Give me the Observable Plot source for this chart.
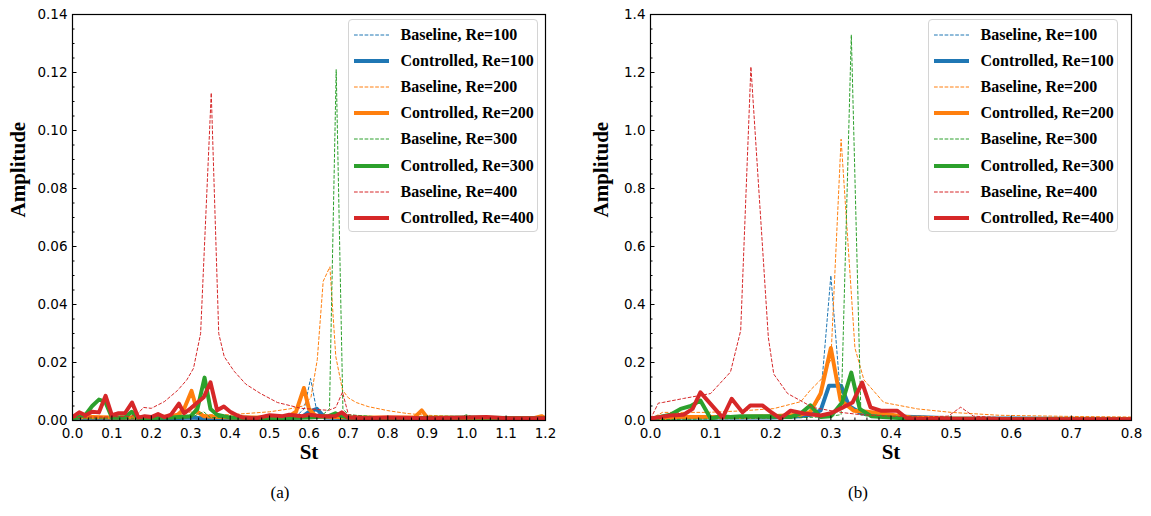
<!DOCTYPE html>
<html>
<head>
<meta charset="utf-8">
<script src="https://cdn.jsdelivr.net/npm/d3@7"></script>
<script src="https://cdn.jsdelivr.net/npm/@observablehq/plot@0.6"></script>
<style>
  html, body { margin: 0; padding: 0; background: #fff; }
  #fig { position: relative; width: 1151px; height: 516px; background: #fff; overflow: hidden; }
  #fig svg.plot { position: absolute; top: 0; }
  .legend { position: absolute; width: 190px; height: 213px; border: 1px solid #d4d4d4; border-radius: 4px;
            background: rgba(255,255,255,0.85); box-sizing: border-box; }
  .legend .row { position: absolute; left: 0; height: 20px; transform: translateY(-50%); display: flex; align-items: center; }
  .legend .row svg { position: absolute; left: 5px; top: 6px; }
  .legend .row span { position: absolute; left: 52px; white-space: nowrap; font: bold 16px "Liberation Serif", "Times New Roman", serif; color: #000; line-height: 20px; top: 0; }
  .cap { position: absolute; top: 483px; font: 17px "Liberation Serif", "Times New Roman", serif; color: #000; transform: translateX(-50%); }
</style>
</head>
<body>
<div id="fig"></div>
<script>
// ---- Series labels and colours ----
const seriesLabels = [
  "Baseline, Re=100", "Controlled, Re=100",
  "Baseline, Re=200", "Controlled, Re=200",
  "Baseline, Re=300", "Controlled, Re=300",
  "Baseline, Re=400", "Controlled, Re=400"
];
const seriesColors = ["#1f77b4", "#1f77b4", "#ff7f0e", "#ff7f0e", "#2ca02c", "#2ca02c", "#d62728", "#d62728"];

// ---- Panel (a): amplitude spectra, [St, Amplitude] ----
const a_base100 = [[0,0.001],[0.05,0.001],[0.1,0.001],[0.2,0.001],[0.28,0.001],[0.30,0.002],[0.32,0.001],[0.4,0.001],[0.5,0.001],[0.57,0.0018],[0.588,0.004],[0.604,0.0145],[0.62,0.003],[0.64,0.001],[0.7,0.001],[0.8,0.0008],[1.0,0.0008],[1.2,0.0008]];
const a_ctrl100 = [[0,0.0005],[0.2,0.0005],[0.3,0.001],[0.33,0.0008],[0.5,0.0008],[0.58,0.001],[0.6,0.003],[0.62,0.004],[0.64,0.001],[0.8,0.0005],[1.2,0.0005]];
const a_base200 = [[0,0.001],[0.1,0.0015],[0.2,0.0015],[0.28,0.002],[0.3,0.003],[0.32,0.002],[0.4,0.002],[0.45,0.0025],[0.5,0.003],[0.55,0.004],[0.585,0.005],[0.605,0.008],[0.621,0.021],[0.636,0.048],[0.653,0.053],[0.668,0.022],[0.685,0.0105],[0.7,0.0078],[0.72,0.0062],[0.75,0.0048],[0.8,0.0034],[0.85,0.0024],[0.9,0.0018],[1.0,0.0013],[1.1,0.001],[1.2,0.001]];
const a_ctrl200 = [[0,0.001],[0.05,0.0012],[0.1,0.001],[0.2,0.001],[0.25,0.0015],[0.267,0.002],[0.283,0.004],[0.302,0.0102],[0.317,0.003],[0.333,0.0015],[0.4,0.001],[0.5,0.001],[0.55,0.0015],[0.567,0.003],[0.587,0.0112],[0.6,0.004],[0.617,0.0015],[0.7,0.001],[0.8,0.001],[0.867,0.001],[0.886,0.0035],[0.9,0.001],[1.0,0.0008],[1.17,0.0008],[1.19,0.0015],[1.2,0.0008]];
const a_base300 = [[0,0.0008],[0.2,0.0008],[0.3,0.001],[0.333,0.003],[0.35,0.001],[0.5,0.001],[0.6,0.0015],[0.635,0.002],[0.652,0.004],[0.669,0.121],[0.686,0.004],[0.7,0.002],[0.8,0.001],[0.98,0.001],[1.0,0.002],[1.02,0.001],[1.2,0.0008]];
const a_ctrl300 = [[0,0.0005],[0.033,0.002],[0.05,0.005],[0.067,0.0072],[0.083,0.0065],[0.1,0.001],[0.133,0.001],[0.15,0.003],[0.167,0.0008],[0.25,0.001],[0.3,0.0015],[0.317,0.004],[0.335,0.0148],[0.35,0.004],[0.367,0.002],[0.4,0.001],[0.5,0.0008],[0.6,0.001],[0.65,0.0015],[0.667,0.0025],[0.683,0.0015],[0.7,0.001],[0.8,0.0008],[1.0,0.001],[1.2,0.0008]];
const a_base400 = [[0,0.001],[0.05,0.0012],[0.1,0.0012],[0.15,0.0015],[0.167,0.0025],[0.18,0.0045],[0.2,0.0042],[0.233,0.0065],[0.266,0.0103],[0.29,0.014],[0.307,0.018],[0.325,0.030],[0.352,0.113],[0.371,0.030],[0.385,0.022],[0.41,0.017],[0.44,0.0125],[0.477,0.0093],[0.52,0.0062],[0.58,0.0042],[0.65,0.0035],[0.668,0.0045],[0.685,0.0098],[0.7,0.002],[0.75,0.0012],[0.8,0.001],[1.2,0.001]];
const a_ctrl400 = [[0,0.0012],[0.017,0.0028],[0.033,0.0018],[0.05,0.003],[0.067,0.0028],[0.084,0.0085],[0.1,0.0018],[0.117,0.0025],[0.133,0.0025],[0.151,0.0062],[0.167,0.001],[0.183,0.0015],[0.2,0.0012],[0.217,0.0022],[0.233,0.0012],[0.25,0.002],[0.27,0.0058],[0.283,0.0025],[0.3,0.0042],[0.317,0.0062],[0.333,0.008],[0.35,0.0132],[0.367,0.0035],[0.384,0.0048],[0.4,0.003],[0.417,0.0018],[0.433,0.001],[0.467,0.0008],[0.5,0.0018],[0.533,0.0015],[0.55,0.002],[0.583,0.0015],[0.6,0.002],[0.633,0.0015],[0.667,0.0015],[0.683,0.0028],[0.7,0.001],[0.75,0.0008],[0.8,0.001],[0.9,0.0008],[1.0,0.001],[1.05,0.0012],[1.1,0.0008],[1.2,0.0008]];

// ---- Panel (b): amplitude spectra, [St, Amplitude] ----
const b_base100 = [[0,0.005],[0.017,0.015],[0.05,0.015],[0.1,0.015],[0.15,0.015],[0.2,0.015],[0.25,0.02],[0.267,0.03],[0.283,0.08],[0.3,0.5],[0.315,0.11],[0.333,0.05],[0.35,0.03],[0.4,0.02],[0.5,0.01],[0.6,0.008],[0.8,0.005]];
const b_ctrl100 = [[0,0.005],[0.05,0.01],[0.1,0.01],[0.2,0.01],[0.25,0.015],[0.267,0.02],[0.283,0.035],[0.297,0.12],[0.317,0.12],[0.33,0.05],[0.35,0.025],[0.4,0.015],[0.5,0.008],[0.8,0.005]];
const b_base200 = [[0,0.005],[0.02,0.028],[0.094,0.028],[0.15,0.033],[0.205,0.041],[0.25,0.065],[0.266,0.105],[0.283,0.14],[0.3,0.21],[0.317,0.97],[0.34,0.25],[0.355,0.14],[0.388,0.062],[0.444,0.04],[0.5,0.028],[0.58,0.018],[0.7,0.014],[0.8,0.012]];
const b_ctrl200 = [[0,0.005],[0.05,0.012],[0.1,0.012],[0.15,0.012],[0.2,0.015],[0.233,0.018],[0.25,0.02],[0.266,0.03],[0.283,0.093],[0.3,0.25],[0.316,0.07],[0.338,0.034],[0.36,0.03],[0.383,0.025],[0.4,0.02],[0.433,0.01],[0.5,0.007],[0.6,0.005],[0.8,0.004]];
const b_base300 = [[0,0.003],[0.1,0.005],[0.2,0.008],[0.25,0.01],[0.283,0.012],[0.3,0.015],[0.317,0.02],[0.334,1.33],[0.35,0.02],[0.367,0.012],[0.4,0.008],[0.5,0.005],[0.8,0.003]];
const b_ctrl300 = [[0,0.005],[0.033,0.02],[0.05,0.04],[0.067,0.05],[0.083,0.069],[0.1,0.007],[0.117,0.015],[0.133,0.012],[0.15,0.015],[0.2,0.015],[0.233,0.012],[0.25,0.025],[0.266,0.052],[0.283,0.012],[0.3,0.015],[0.319,0.063],[0.334,0.165],[0.348,0.04],[0.367,0.015],[0.4,0.01],[0.45,0.005],[0.8,0.003]];
const b_base400 = [[0,0.005],[0.013,0.06],[0.02,0.062],[0.055,0.076],[0.1,0.093],[0.133,0.167],[0.15,0.31],[0.167,1.22],[0.196,0.286],[0.205,0.16],[0.228,0.093],[0.27,0.045],[0.316,0.028],[0.35,0.02],[0.4,0.015],[0.45,0.012],[0.495,0.015],[0.516,0.046],[0.537,0.015],[0.6,0.008],[0.7,0.006],[0.8,0.005]];
const b_ctrl400 = [[0,0.007],[0.017,0.012],[0.033,0.017],[0.055,0.02],[0.07,0.04],[0.083,0.097],[0.12,0.01],[0.135,0.075],[0.153,0.028],[0.166,0.052],[0.186,0.052],[0.2,0.03],[0.216,0.007],[0.233,0.034],[0.255,0.024],[0.283,0.017],[0.3,0.025],[0.316,0.041],[0.336,0.062],[0.352,0.131],[0.366,0.045],[0.383,0.034],[0.41,0.034],[0.427,0.007],[0.45,0.005],[0.5,0.005],[0.6,0.004],[0.7,0.004],[0.8,0.004]];

// ---- Tick values ----
const xTicksA = [0,0.1,0.2,0.3,0.4,0.5,0.6,0.7,0.8,0.9,1.0,1.1,1.2];
const yTicksA = [0,0.02,0.04,0.06,0.08,0.10,0.12,0.14];
const xTicksB = [0,0.1,0.2,0.3,0.4,0.5,0.6,0.7,0.8];
const yTicksB = [0,0.2,0.4,0.6,0.8,1.0,1.2,1.4];

const seriesA = [a_base100, a_ctrl100, a_base200, a_ctrl200, a_base300, a_ctrl300, a_base400, a_ctrl400];
const seriesB = [b_base100, b_ctrl100, b_base200, b_ctrl200, b_base300, b_ctrl300, b_base400, b_ctrl400];

function minorTicks(major, n) {
  const out = [];
  for (let i = 0; i < major.length - 1; i++) {
    const step = (major[i + 1] - major[i]) / n;
    for (let k = 1; k < n; k++) out.push(+(major[i] + k * step).toFixed(6));
  }
  return out;
}

function spectrumLines(series) {
  return series.map((pts, i) => {
    const dashed = i % 2 === 0;
    return Plot.line(pts, {
      x: d => d[0], y: d => d[1],
      stroke: seriesColors[i],
      strokeWidth: dashed ? 1 : 4,
      strokeDasharray: dashed ? "3.7,1.6" : null,
      strokeLinejoin: "round",
      strokeLinecap: dashed ? "butt" : "square",
      clip: true
    });
  });
}

function panel({series, xDomain, yDomain, xTicks, yTicks, xMinor, yMinor, yFmt, width, marginLeft, marginRight, titleDx}) {
  const titleFont = {fontFamily: "Liberation Serif, Times New Roman, serif", fontWeight: "bold", fontSize: 21, fill: "black"};
  return Plot.plot({
    width, height: 470,
    marginLeft, marginRight, marginTop: 14, marginBottom: 50,
    x: {domain: xDomain},
    y: {domain: yDomain},
    style: {fontFamily: "DejaVu Sans", fontSize: "13.5px", color: "black", background: "transparent", overflow: "visible"},
    marks: [
      ...spectrumLines(series),
      Plot.frame({stroke: "black", strokeWidth: 1.2}),
      Plot.axisX({ticks: xMinor, tickSize: -2.5, fill: "none", label: null}),
      Plot.axisX({ticks: xTicks, tickSize: -4.5, fill: "none", label: null}),
      Plot.axisX({ticks: xTicks, tickSize: 0, tickPadding: 8, tickFormat: d3.format(".1f"), label: null}),
      Plot.axisY({ticks: yMinor, tickSize: -2.5, fill: "none", label: null}),
      Plot.axisY({ticks: yTicks, tickSize: -4.5, fill: "none", label: null}),
      Plot.axisY({ticks: yTicks, tickSize: 0, tickPadding: 5, tickFormat: d3.format(yFmt), label: null}),
      Plot.text(["St"], {frameAnchor: "bottom", dy: 38, text: d => d, ...titleFont}),
      Plot.text(["Amplitude"], {frameAnchor: "left", dx: titleDx, rotate: -90, text: d => d, ...titleFont})
    ]
  });
}

const fig = document.getElementById("fig");

const plotA = panel({
  series: seriesA, xDomain: [0, 1.2], yDomain: [0, 0.14],
  xTicks: xTicksA, yTicks: yTicksA,
  xMinor: minorTicks(xTicksA, 5), yMinor: minorTicks(yTicksA, 4),
  yFmt: ".2f", width: 575, marginLeft: 72, marginRight: 30, titleDx: -54
});
plotA.classList.add("plot");
plotA.style.left = "0px";
fig.appendChild(plotA);

const plotB = panel({
  series: seriesB, xDomain: [0, 0.8], yDomain: [0, 1.4],
  xTicks: xTicksB, yTicks: yTicksB,
  xMinor: minorTicks(xTicksB, 5), yMinor: minorTicks(yTicksB, 4),
  yFmt: ".1f", width: 576, marginLeft: 75, marginRight: 20, titleDx: -49
});
plotB.classList.add("plot");
plotB.style.left = "575px";
fig.appendChild(plotB);

function legend(left, top) {
  const box = document.createElement("div");
  box.className = "legend";
  box.style.left = left + "px";
  box.style.top = top + "px";
  seriesLabels.forEach((label, i) => {
    const dashed = i % 2 === 0;
    const row = document.createElement("div");
    row.className = "row";
    row.style.top = (15.5 + i * 26.1) + "px";
    row.innerHTML =
      `<svg width="36" height="8" style="overflow:visible"><line x1="0" x2="35" y1="4" y2="4" stroke="${seriesColors[i]}" stroke-width="${dashed ? 1 : 4}"${dashed ? ' stroke-dasharray="3.7,1.6"' : ""}/></svg>` +
      `<span>${label}</span>`;
    box.appendChild(row);
  });
  fig.appendChild(box);
}
legend(347.5, 18.5);
legend(927.5, 18.5);

for (const [t, x] of [["(a)", 280], ["(b)", 858]]) {
  const c = document.createElement("div");
  c.className = "cap";
  c.style.left = x + "px";
  c.textContent = t;
  fig.appendChild(c);
}
</script>
</body>
</html>
